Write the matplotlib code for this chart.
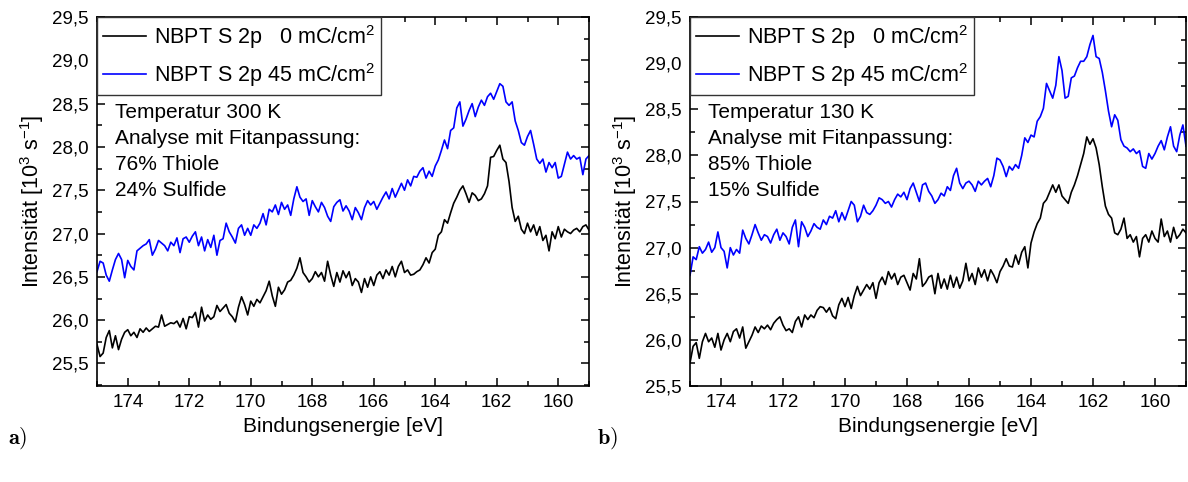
import numpy as np
import matplotlib
matplotlib.use("Agg")
import matplotlib.pyplot as plt
from matplotlib.ticker import MultipleLocator, FuncFormatter

plt.rcParams["font.family"] = ["Liberation Sans", "DejaVu Sans"]
plt.rcParams["mathtext.fontset"] = "custom"
plt.rcParams["mathtext.rm"] = "Liberation Sans"
plt.rcParams["mathtext.it"] = "Liberation Sans:italic"
plt.rcParams["mathtext.bf"] = "Liberation Sans:bold"

# binding energy grid of the spectra, 175.0 eV down to 159.0 eV in 0.1 eV steps
energy = np.round(np.linspace(175.0, 159.0, 161), 2)

# a) 300 K, intensity in 10^3 counts/s
a_0mc = [
    25.72, 25.58, 25.62, 25.80, 25.88, 25.68, 25.82, 25.66, 25.78, 25.86,
    25.89, 25.82, 25.86, 25.80, 25.90, 25.86, 25.91, 25.87, 25.90, 25.93,
    25.92, 26.06, 25.93, 25.95, 25.97, 25.96, 25.99, 25.92, 26.02, 25.90,
    26.04, 26.03, 26.09, 25.92, 26.15, 25.99, 26.06, 26.01, 26.04, 26.17,
    26.10, 26.14, 26.18, 26.08, 26.04, 25.98, 26.15, 26.27, 26.18, 26.06,
    26.22, 26.16, 26.24, 26.20, 26.27, 26.34, 26.45, 26.28, 26.16, 26.38,
    26.30, 26.35, 26.44, 26.46, 26.52, 26.60, 26.72, 26.55, 26.50, 26.44,
    26.48, 26.56, 26.50, 26.55, 26.45, 26.68, 26.52, 26.39, 26.55, 26.44,
    26.57, 26.49, 26.56, 26.40, 26.48, 26.44, 26.32, 26.48, 26.38, 26.50,
    26.40, 26.52, 26.56, 26.48, 26.58, 26.52, 26.62, 26.50, 26.62, 26.68,
    26.55, 26.58, 26.52, 26.53, 26.56, 26.58, 26.64, 26.72, 26.66, 26.78,
    26.82, 26.98, 27.02, 27.16, 27.12, 27.24, 27.35, 27.42, 27.50, 27.55,
    27.46, 27.36, 27.47, 27.44, 27.38, 27.40, 27.46, 27.55, 27.88, 27.89,
    27.96, 28.02, 27.86, 27.82, 27.60, 27.30, 27.14, 27.20, 27.05, 27.00,
    27.12, 27.02, 27.10, 26.98, 27.08, 26.92, 26.98, 26.80, 27.02, 26.94,
    27.08, 26.96, 27.05, 27.02, 27.00, 27.04, 27.06, 27.02, 27.08, 27.10,
    27.04,
]
a_45mc = [
    26.56, 26.68, 26.66, 26.52, 26.45, 26.58, 26.70, 26.77, 26.70, 26.49,
    26.69, 26.62, 26.58, 26.80, 26.83, 26.86, 26.88, 26.93, 26.75, 26.82,
    26.92, 26.89, 26.86, 26.80, 26.90, 26.86, 26.95, 26.78, 26.94, 26.96,
    26.90, 26.97, 27.02, 26.86, 26.96, 26.80, 26.93, 26.84, 26.98, 26.75,
    26.92, 26.94, 27.12, 27.02, 26.96, 26.89, 27.06, 27.10, 26.98, 27.06,
    26.98, 27.10, 27.06, 27.12, 27.23, 27.10, 27.28, 27.25, 27.33, 27.22,
    27.36, 27.28, 27.33, 27.21, 27.40, 27.54, 27.42, 27.37, 27.40, 27.21,
    27.38, 27.31, 27.25, 27.36, 27.30, 27.20, 27.14, 27.31, 27.36, 27.39,
    27.26, 27.32, 27.26, 27.16, 27.30, 27.24, 27.16, 27.30, 27.38, 27.33,
    27.37, 27.28, 27.35, 27.42, 27.48, 27.40, 27.52, 27.42, 27.50, 27.58,
    27.50, 27.62, 27.55, 27.66, 27.65, 27.72, 27.76, 27.64, 27.72, 27.66,
    27.78, 27.85, 27.96, 28.08, 27.98, 28.19, 28.22, 28.45, 28.52, 28.24,
    28.32, 28.42, 28.50, 28.35, 28.46, 28.54, 28.48, 28.58, 28.62, 28.55,
    28.64, 28.73, 28.70, 28.52, 28.48, 28.52, 28.30, 28.19, 28.05, 28.02,
    28.12, 28.19, 28.03, 27.86, 27.81, 27.86, 27.71, 27.82, 27.76, 27.82,
    27.64, 27.66, 27.80, 27.94, 27.86, 27.90, 27.86, 27.88, 27.68, 27.86,
    27.90,
]

# b) 130 K
b_0mc = [
    25.75, 25.93, 25.97, 25.80, 25.98, 26.07, 25.98, 26.02, 25.92, 26.07,
    25.89, 26.00, 26.07, 25.98, 26.09, 26.12, 26.02, 26.14, 25.91, 25.98,
    26.05, 26.14, 26.08, 26.15, 26.12, 26.16, 26.11, 26.18, 26.22, 26.25,
    26.16, 26.10, 26.12, 26.08, 26.20, 26.25, 26.14, 26.27, 26.22, 26.27,
    26.24, 26.32, 26.36, 26.35, 26.30, 26.35, 26.26, 26.23, 26.38, 26.45,
    26.36, 26.46, 26.34, 26.48, 26.58, 26.48, 26.54, 26.60, 26.55, 26.62,
    26.45, 26.62, 26.68, 26.60, 26.74, 26.66, 26.72, 26.60, 26.68, 26.70,
    26.62, 26.54, 26.72, 26.66, 26.88, 26.58, 26.62, 26.68, 26.70, 26.50,
    26.72, 26.56, 26.66, 26.55, 26.70, 26.57, 26.68, 26.56, 26.64, 26.83,
    26.64, 26.72, 26.60, 26.78, 26.68, 26.76, 26.64, 26.76, 26.70, 26.62,
    26.74, 26.80, 26.88, 26.80, 26.79, 26.92, 26.82, 26.95, 27.01, 26.78,
    27.05, 27.17, 27.26, 27.32, 27.48, 27.52, 27.60, 27.68, 27.60, 27.68,
    27.56, 27.52, 27.48, 27.60, 27.68, 27.78, 27.90, 28.02, 28.20, 28.12,
    28.18, 28.08, 27.90, 27.66, 27.45, 27.36, 27.32, 27.16, 27.14, 27.20,
    27.32, 27.10, 27.14, 27.06, 27.12, 26.90, 27.10, 27.14, 27.06, 27.18,
    27.10, 27.06, 27.31, 27.12, 27.18, 27.06, 27.22, 27.10, 27.14, 27.20,
    27.16,
]
b_45mc = [
    26.70, 26.90, 26.87, 27.01, 26.94, 26.98, 27.06, 26.95, 27.00, 27.17,
    27.00, 26.96, 26.78, 27.00, 26.92, 26.98, 26.94, 27.19, 27.10, 27.04,
    27.14, 27.25, 27.16, 27.08, 27.14, 27.12, 27.05, 27.14, 27.20, 27.08,
    27.16, 27.12, 27.04, 27.22, 27.30, 27.01, 27.28, 27.22, 27.12, 27.18,
    27.26, 27.22, 27.20, 27.30, 27.25, 27.34, 27.32, 27.40, 27.28, 27.38,
    27.30, 27.40, 27.50, 27.46, 27.28, 27.34, 27.46, 27.38, 27.36, 27.40,
    27.46, 27.54, 27.52, 27.48, 27.50, 27.44, 27.52, 27.58, 27.55, 27.60,
    27.52, 27.64, 27.70, 27.60, 27.50, 27.68, 27.70, 27.61, 27.56, 27.48,
    27.52, 27.59, 27.56, 27.66, 27.62, 27.78, 27.86, 27.70, 27.64, 27.70,
    27.72, 27.68, 27.61, 27.72, 27.68, 27.72, 27.75, 27.66, 27.78, 27.97,
    27.95, 27.88, 27.77, 27.88, 27.84, 27.90, 27.86, 28.00, 28.19, 28.14,
    28.22, 28.20, 28.37, 28.42, 28.51, 28.78, 28.70, 28.62, 28.76, 29.07,
    28.92, 28.62, 28.64, 28.84, 28.86, 28.95, 29.02, 29.02, 29.07, 29.20,
    29.30, 29.07, 29.05, 28.90, 28.70, 28.48, 28.31, 28.44, 28.38, 28.17,
    28.10, 28.08, 28.04, 28.07, 28.02, 28.05, 27.88, 27.86, 28.02, 27.96,
    28.02, 28.10, 28.16, 28.06, 28.20, 28.31, 28.10, 28.04, 28.22, 28.33,
    28.10,
]

labels = ["NBPT S 2p   0 mC/cm$^2$", "NBPT S 2p 45 mC/cm$^2$"]
notes = [
    "Temperatur 300 K\nAnalyse mit Fitanpassung:\n76% Thiole\n24% Sulfide",
    "Temperatur 130 K\nAnalyse mit Fitanpassung:\n85% Thiole\n15% Sulfide",
]
ylims = [(25.24, 29.5), (25.5, 29.5)]

W, H = 1188, 482
fig = plt.figure(figsize=(W / 100, H / 100), dpi=100)
ax1 = fig.add_axes([97 / W, (H - 386) / H, 492 / W, 369 / H])
ax2 = fig.add_axes([690 / W, (H - 386) / H, 496 / W, 369 / H])

comma = FuncFormatter(lambda v, p: f"{v:.1f}".replace(".", ","))

for ax, black, blue, note, ylim in [
    (ax1, a_0mc, a_45mc, notes[0], ylims[0]),
    (ax2, b_0mc, b_45mc, notes[1], ylims[1]),
]:
    ax.plot(energy, black, color="black", lw=1.2, label=labels[0])
    ax.plot(energy, blue, color="#0000ff", lw=1.2, label=labels[1])
    ax.set_xlim(175, 159)
    ax.set_ylim(*ylim)
    ax.xaxis.set_major_locator(MultipleLocator(2))
    ax.xaxis.set_minor_locator(MultipleLocator(1))
    ax.yaxis.set_major_locator(MultipleLocator(0.5))
    ax.yaxis.set_minor_locator(MultipleLocator(0.25))
    ax.yaxis.set_major_formatter(comma)
    ax.tick_params(which="both", direction="in", top=True, right=True,
                   labelsize=13.5, width=1.1)
    ax.tick_params(which="major", length=6, pad=6)
    ax.tick_params(which="minor", length=3.5)
    for sp in ax.spines.values():
        sp.set_linewidth(1.2)
    ax.set_xlabel("Bindungsenergie [eV]", fontsize=15, labelpad=4)
    ax.set_ylabel("Intensität [10$^3$ s$^{-1}$]", fontsize=15.5, labelpad=4)
    leg = ax.legend(loc="upper left", bbox_to_anchor=(0, 1), borderaxespad=0,
                    fontsize=15.5, fancybox=False, framealpha=1,
                    edgecolor="#333333", handlelength=2.0, handletextpad=0.35,
                    labelspacing=0.45, borderpad=0.28)
    leg.get_frame().set_linewidth(1.0)
    ax.text(0.037, 0.768, note, transform=ax.transAxes, va="top", ha="left",
            fontsize=15, linespacing=1.47)

fig.text(8 / W, 1 - 438 / H, r"$\mathbf{a)}$", math_fontfamily="cm",
         fontsize=16, va="center", ha="left")
fig.text(597 / W, 1 - 438 / H, r"$\mathbf{b)}$", math_fontfamily="cm",
         fontsize=16, va="center", ha="left")

fig.savefig("out.png", dpi=100)
